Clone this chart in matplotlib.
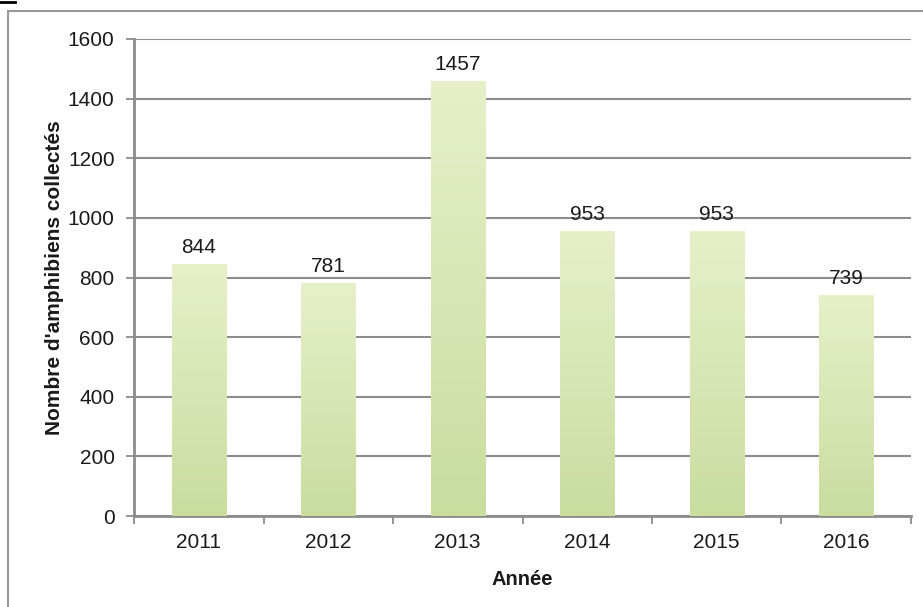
import matplotlib.pyplot as plt
import numpy as np
from matplotlib.patches import Rectangle
from matplotlib.colors import LinearSegmentedColormap


YEARS: list[str] = ["2011", "2012", "2013", "2014", "2015", "2016"]
COUNTS: list[int] = [844, 781, 1457, 953, 953, 739]
Y_TICKS: list[int] = [0, 200, 400, 600, 800, 1000, 1200, 1400, 1600]

plt.rcParams["font.family"] = ["Liberation Sans", "DejaVu Sans"]

GRID_COLOR = "#8c8c8c"
TEXT_COLOR = "#1a1a1a"

fig = plt.figure(figsize=(9.23, 6.07), dpi=100)

# outer chart frame, like the spreadsheet chart area
fig.patches.append(
    Rectangle((8 / 923, -0.05), 1.0, 1 - 11 / 607 + 0.05,
              transform=fig.transFigure, fill=False,
              edgecolor="#9a9a9a", linewidth=1.5)
)
fig.add_artist(plt.Line2D([0, 15 / 923], [1 - 2 / 607, 1 - 2 / 607],
                          transform=fig.transFigure, color="black", linewidth=2))

ax = fig.add_axes([134 / 923, 1 - 516 / 607, (911 - 134) / 923, (516 - 39) / 607])

x = np.arange(len(YEARS))
bars = ax.bar(x, COUNTS, width=0.42, color="none", edgecolor="none", zorder=3)

# vertical gradient on each bar: pale at the top, greener at the base
cmap = LinearSegmentedColormap.from_list("bar_grad", ["#c9dd9f", "#e6f0c9"])
grad = np.linspace(0, 1, 256).reshape(-1, 1)
for bar in bars:
    x0, w, h = bar.get_x(), bar.get_width(), bar.get_height()
    ax.imshow(grad, cmap=cmap, aspect="auto", origin="lower",
              extent=(x0, x0 + w, 0, h), zorder=3)

ax.set_xlim(-0.5, len(YEARS) - 0.5)
ax.set_ylim(0, 1600)

ax.set_yticks(Y_TICKS)
ax.set_yticklabels([str(t) for t in Y_TICKS])
ax.yaxis.grid(True, color=GRID_COLOR, linewidth=1.5, zorder=0)
ax.set_axisbelow(True)

# category ticks sit between the bars
ax.set_xticks(x)
ax.set_xticklabels(YEARS)
ax.set_xticks(np.arange(len(YEARS) + 1) - 0.5, minor=True)
ax.tick_params(axis="x", which="major", length=0, pad=12,
               labelsize=15, labelcolor=TEXT_COLOR)
ax.tick_params(axis="x", which="minor", length=6, width=1.3,
               color=GRID_COLOR, direction="out")
ax.tick_params(axis="y", length=6, width=1.3, color=GRID_COLOR,
               pad=8, labelsize=15, labelcolor=TEXT_COLOR)

for side in ["top", "right"]:
    ax.spines[side].set_visible(False)
for side in ["left", "bottom"]:
    ax.spines[side].set_color(GRID_COLOR)
    ax.spines[side].set_linewidth(2)

for xi, val in zip(x, COUNTS):
    ax.text(xi, val + 25, str(val), ha="center", va="bottom",
            fontsize=15, color=TEXT_COLOR, zorder=4)

ax.set_xlabel("Année", fontsize=14.5, fontweight="bold", color=TEXT_COLOR, labelpad=13)
ax.set_ylabel("Nombre d'amphibiens collectés", fontsize=15, fontweight="bold",
              color=TEXT_COLOR, labelpad=3)

fig.savefig("out.png", dpi=100)
